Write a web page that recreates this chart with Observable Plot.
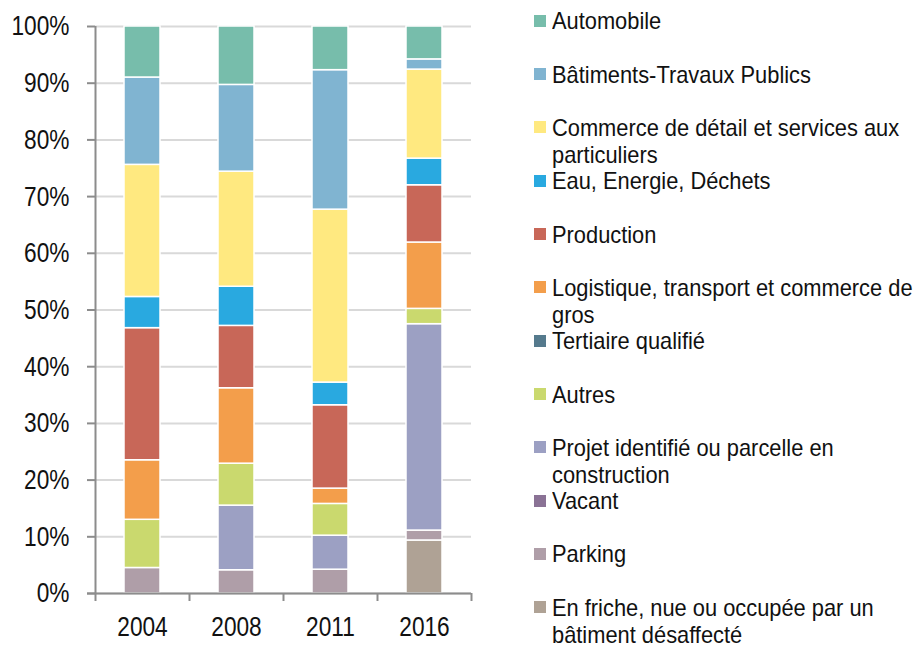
<!DOCTYPE html>
<html>
<head>
<meta charset="utf-8">
<script src="https://cdn.jsdelivr.net/npm/d3@7"></script>
<script src="https://cdn.jsdelivr.net/npm/@observablehq/plot@0.6"></script>
<style>
  html, body { margin: 0; padding: 0; background: #fff; }
  #wrap { position: relative; width: 916px; height: 645px; overflow: hidden; font-family: "Liberation Sans", Arial, sans-serif; }
  #chart { position: absolute; left: 0; top: 0; }
  .lg-sw { position: absolute; width: 12px; height: 12px; }
  .lg-tx { position: absolute; font-size: 24px; line-height: 27px; color: #111; white-space: nowrap; transform: scaleX(0.91); transform-origin: left top; }
</style>
</head>
<body>
<div id="wrap"><div id="chart"></div><div id="legend"></div></div>
<script>
const years = ["2004", "2008", "2011", "2016"];

// legend order (top to bottom); stacked bottom-to-top in reverse order
const categories = [
  "Automobile",
  "Bâtiments-Travaux Publics",
  "Commerce de détail et services aux particuliers",
  "Eau, Energie, Déchets",
  "Production",
  "Logistique, transport et commerce de gros",
  "Tertiaire qualifié",
  "Autres",
  "Projet identifié ou parcelle en construction",
  "Vacant",
  "Parking",
  "En friche, nue ou occupée par un bâtiment désaffecté"
];
const legendLines = [
  ["Automobile"],
  ["Bâtiments-Travaux Publics"],
  ["Commerce de détail et services aux", "particuliers"],
  ["Eau, Energie, Déchets"],
  ["Production"],
  ["Logistique, transport et commerce de", "gros"],
  ["Tertiaire qualifié"],
  ["Autres"],
  ["Projet identifié ou parcelle en", "construction"],
  ["Vacant"],
  ["Parking"],
  ["En friche, nue ou occupée par un", "bâtiment désaffecté"]
];
const colors = [
  "#77bdab", "#80b4d1", "#ffe980", "#29a9e0", "#c86758", "#f39e4b",
  "#557a8d", "#cad96e", "#9ca0c3", "#8a7295", "#af9ea8", "#afa295"
];

// percentages per category, one value per year
const automobile = [9.0, 10.3, 7.7, 5.8];
const batiments  = [15.4, 15.3, 24.6, 1.8];
const commerce   = [23.3, 20.3, 30.5, 15.7];
const eau        = [5.5, 6.9, 4.0, 4.7];
const production = [23.3, 11.0, 14.7, 10.1];
const logistique = [10.5, 13.3, 2.7, 11.7];
const tertiaire  = [0, 0, 0, 0];
const autres     = [8.5, 7.4, 5.6, 2.7];
const projet     = [0, 11.4, 6.0, 36.4];
const vacant     = [0, 0, 0, 0];
const parking    = [4.5, 4.1, 4.2, 1.75];
const friche     = [0, 0, 0, 9.35];
const seriesValues = [automobile, batiments, commerce, eau, production, logistique,
                      tertiaire, autres, projet, vacant, parking, friche];

const yTicks = [0, 10, 20, 30, 40, 50, 60, 70, 80, 90, 100];

// build table bottom-to-top
const data = [];
for (let c = categories.length - 1; c >= 0; c--) {
  years.forEach((yr, i) => {
    const v = seriesValues[c][i];
    if (v > 0) data.push({ year: yr, category: categories[c], value: v });
  });
}

const W = 500, H = 645, mL = 95, mR = 29, mT = 26, mB = 52;
const step = (W - mL - mR) / years.length;
const axisColor = "#8c8c8c";

const chart = Plot.plot({
  width: W, height: H,
  marginLeft: mL, marginRight: mR, marginTop: mT, marginBottom: mB,
  style: { fontFamily: "'Liberation Sans', Arial, sans-serif", color: "#111", background: "white", overflow: "visible" },
  x: { domain: years, paddingInner: 0.617, paddingOuter: 0.3085, axis: null, label: null },
  y: { domain: [0, 100], axis: null, label: null },
  color: { domain: categories, range: colors },
  marks: [
    Plot.gridY(yTicks, { stroke: "#d9d9d9", strokeOpacity: 1, strokeWidth: 2 }),
    Plot.barY(data, { x: "year", y: "value", fill: "category", stroke: "white", strokeWidth: 1.5 }),
    Plot.ruleY([0], { stroke: axisColor, strokeWidth: 2, insetLeft: -8 }),
    Plot.ruleX([years[0]], { dx: -step / 2, stroke: axisColor, strokeWidth: 2 }),
    Plot.ruleX(years, { x: d => d, dx: -step / 2, y1: 0, y2: 0, insetBottom: -8, stroke: axisColor, strokeWidth: 2 }),
    Plot.ruleX([years[years.length - 1]], { x: d => d, dx: step / 2, y1: 0, y2: 0, insetBottom: -8, stroke: axisColor, strokeWidth: 2 }),
    Plot.axisY(yTicks, { label: null, tickSize: 8, tickPadding: 18, tickFormat: d => d + "%", stroke: axisColor, strokeWidth: 2, fontSize: 28, fill: "#111" }),
    Plot.axisX({ label: null, tickSize: 0, tickPadding: 23, fontSize: 28, fill: "#111" })
  ]
});
document.getElementById("chart").appendChild(chart);

// narrow the axis label glyphs (reference uses a condensed face)
d3.select(chart).selectAll('g[aria-label="y-axis tick label"] text, g[aria-label="x-axis tick label"] text')
  .each(function () {
    const t = this.getAttribute("transform");
    if (t) this.setAttribute("transform", t + " scale(0.81,1)");
    else {
      const x = +this.getAttribute("x") || 0, y = +this.getAttribute("y") || 0;
      this.setAttribute("transform", `translate(${x},${y}) scale(0.81,1) translate(${-x},${-y})`);
    }
  });

// legend
const legend = d3.select("#legend");
const rowH = 53.3;
categories.forEach((c, i) => {
  legend.append("div").attr("class", "lg-sw")
    .style("left", "534px").style("top", (14.8 + rowH * i) + "px")
    .style("background", colors[i]);
  legend.append("div").attr("class", "lg-tx")
    .style("left", "552px").style("top", (7.4 + rowH * i) + "px")
    .html(legendLines[i].join("<br>"));
});
</script>
</body>
</html>
